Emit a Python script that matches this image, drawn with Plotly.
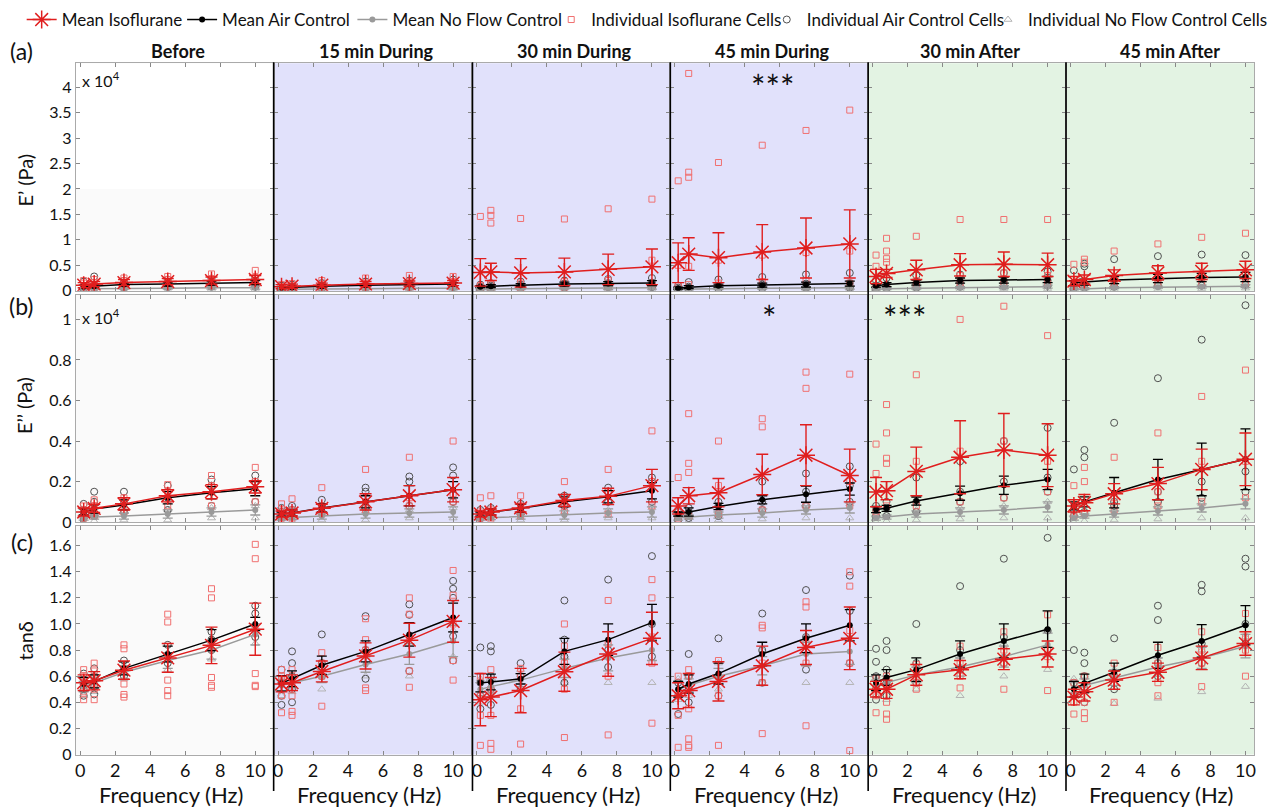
import plotly.graph_objects as go

W, H = 1273, 808

# ---------------- data ----------------
F = [0.2, 0.8, 2.5, 5, 7.5, 10]  # Hz
periods = ["Before", "15 min During", "30 min During", "45 min During", "30 min After", "45 min After"]
names = ["Mean Isoflurane", "Mean Air Control", "Mean No Flow Control",
         "Individual Isoflurane Cells", "Individual Air Control Cells", "Individual No Flow Control Cells"]

# (a) E' in units of 10^4 Pa
a_iso_mean = [[0.11, 0.13, 0.16, 0.18, 0.20, 0.22], [0.08, 0.09, 0.11, 0.13, 0.14, 0.15],
              [0.36, 0.37, 0.35, 0.37, 0.42, 0.47], [0.55, 0.72, 0.65, 0.76, 0.84, 0.92],
              [0.28, 0.34, 0.41, 0.51, 0.52, 0.51], [0.19, 0.22, 0.30, 0.35, 0.38, 0.41]]
a_iso_err = [[0.05, 0.05, 0.06, 0.06, 0.07, 0.08], [0.04, 0.04, 0.04, 0.05, 0.05, 0.05],
             [0.27, 0.17, 0.28, 0.27, 0.30, 0.35], [0.39, 0.32, 0.49, 0.54, 0.59, 0.67],
             [0.14, 0.08, 0.19, 0.22, 0.24, 0.23], [0.09, 0.09, 0.11, 0.14, 0.16, 0.17]]
a_air_mean = [[0.08, 0.09, 0.12, 0.13, 0.15, 0.16], [0.06, 0.07, 0.09, 0.11, 0.12, 0.13],
              [0.08, 0.09, 0.11, 0.13, 0.14, 0.15], [0.05, 0.07, 0.10, 0.11, 0.12, 0.14],
              [0.10, 0.12, 0.16, 0.20, 0.21, 0.22], [0.15, 0.17, 0.21, 0.24, 0.26, 0.27]]
a_air_err = [[0.03, 0.03, 0.03, 0.04, 0.04, 0.04], [0.02, 0.02, 0.03, 0.03, 0.03, 0.03],
             [0.02, 0.03, 0.03, 0.04, 0.04, 0.05], [0.02, 0.03, 0.03, 0.04, 0.05, 0.05],
             [0.03, 0.04, 0.05, 0.05, 0.06, 0.06], [0.05, 0.06, 0.07, 0.08, 0.08, 0.09]]
a_nf_mean = [[0.04, 0.04, 0.05, 0.05, 0.06, 0.06], [0.03, 0.03, 0.04, 0.04, 0.05, 0.05],
             [0.03, 0.03, 0.04, 0.05, 0.05, 0.06], [0.03, 0.03, 0.04, 0.05, 0.05, 0.06],
             [0.03, 0.04, 0.05, 0.06, 0.07, 0.08], [0.03, 0.04, 0.06, 0.07, 0.08, 0.09]]
a_nf_err = [[0.02, 0.02, 0.02, 0.02, 0.03, 0.03]] * 6
a_iso_cells = [
    [[0.05, 0.15, 0.2], [0.06, 0.16, 0.22], [0.08, 0.2, 0.25], [0.1, 0.22, 0.28], [0.1, 0.24, 0.33], [0.12, 0.26, 0.4]],
    [[0.03, 0.08, 0.12], [0.04, 0.1, 0.14], [0.05, 0.12, 0.2], [0.06, 0.15, 0.25], [0.07, 0.16, 0.3], [0.08, 0.18, 0.28]],
    [[0.05, 0.1, 1.46], [0.05, 0.12, 1.33, 1.48, 1.58], [0.06, 0.15, 1.42], [0.07, 0.18, 1.41], [0.08, 0.2, 1.61], [0.1, 0.6, 1.8]],
    [[0.1, 0.5, 2.16], [0.12, 0.48, 2.23, 2.33, 4.27], [0.15, 0.6, 2.52], [0.18, 0.7, 2.86], [0.2, 0.75, 3.15], [0.15, 0.78, 3.55]],
    [[0.08, 0.48, 0.7], [0.1, 0.56, 0.63, 0.78, 1.03], [0.12, 0.2, 1.07], [0.15, 0.3, 1.4], [0.15, 0.35, 1.4], [0.15, 0.3, 1.4]],
    [[0.08, 0.15, 0.52], [0.1, 0.56, 0.62], [0.12, 0.2, 0.78], [0.14, 0.25, 0.92], [0.15, 0.3, 1.05], [0.15, 0.35, 1.13]]]
a_air_cells = [
    [[0.04, 0.1, 0.18], [0.05, 0.12, 0.28], [0.06, 0.15, 0.2], [0.07, 0.15, 0.22], [0.08, 0.18, 0.24], [0.08, 0.2, 0.25]],
    [[0.03, 0.07, 0.1], [0.04, 0.08, 0.12], [0.05, 0.1, 0.15], [0.06, 0.12, 0.18], [0.07, 0.14, 0.2], [0.07, 0.15, 0.22]],
    [[0.03, 0.08, 0.12], [0.04, 0.1, 0.15], [0.05, 0.12, 0.18], [0.06, 0.14, 0.2], [0.07, 0.15, 0.23], [0.07, 0.16, 0.25]],
    [[0.02, 0.06, 0.1], [0.03, 0.08, 0.17], [0.04, 0.1, 0.22], [0.05, 0.12, 0.27], [0.06, 0.14, 0.32], [0.06, 0.15, 0.35]],
    [[0.04, 0.1, 0.2], [0.05, 0.12, 0.25], [0.06, 0.14, 0.3], [0.08, 0.18, 0.32], [0.09, 0.2, 0.35], [0.1, 0.2, 0.38]],
    [[0.05, 0.15, 0.4], [0.06, 0.48, 0.53], [0.08, 0.2, 0.62], [0.1, 0.22, 0.68], [0.1, 0.25, 0.71], [0.12, 0.25, 0.7]]]
a_nf_cells = [
    [[0.01, 0.05], [0.01, 0.06], [0.02, 0.07], [0.02, 0.08], [0.03, 0.09], [0.03, 0.1]],
    [[0.01, 0.04], [0.01, 0.05], [0.02, 0.06], [0.02, 0.07], [0.03, 0.08], [0.03, 0.08]],
    [[0.01, 0.05], [0.01, 0.05], [0.02, 0.06], [0.02, 0.08], [0.03, 0.08], [0.03, 0.09]],
    [[0.01, 0.05], [0.01, 0.05], [0.02, 0.06], [0.02, 0.08], [0.03, 0.08], [0.03, 0.09]],
    [[0.01, 0.06], [0.02, 0.07], [0.02, 0.08], [0.03, 0.1], [0.04, 0.11], [0.04, 0.12]],
    [[0.01, 0.06], [0.02, 0.07], [0.03, 0.09], [0.03, 0.11], [0.04, 0.12], [0.05, 0.13]]]

# (b) E'' in units of 10^4 Pa
b_iso_mean = [[0.05, 0.068, 0.09, 0.13, 0.15, 0.174], [0.04, 0.045, 0.068, 0.10, 0.13, 0.16],
              [0.04, 0.05, 0.07, 0.107, 0.127, 0.18], [0.08, 0.13, 0.145, 0.235, 0.33, 0.23],
              [0.148, 0.155, 0.25, 0.32, 0.356, 0.33], [0.08, 0.096, 0.14, 0.19, 0.26, 0.31]]
b_iso_err = [[0.02, 0.02, 0.03, 0.03, 0.035, 0.03], [0.015, 0.015, 0.02, 0.04, 0.05, 0.06],
             [0.015, 0.015, 0.02, 0.03, 0.04, 0.08], [0.04, 0.04, 0.07, 0.10, 0.15, 0.13],
             [0.072, 0.045, 0.12, 0.18, 0.18, 0.155], [0.03, 0.04, 0.05, 0.08, 0.10, 0.13]]
b_air_mean = [[0.05, 0.065, 0.085, 0.12, 0.145, 0.165], [0.04, 0.045, 0.07, 0.10, 0.13, 0.16],
              [0.04, 0.05, 0.068, 0.10, 0.125, 0.155], [0.04, 0.05, 0.077, 0.11, 0.138, 0.163],
              [0.062, 0.068, 0.104, 0.143, 0.182, 0.21], [0.08, 0.10, 0.145, 0.21, 0.26, 0.31]]
b_air_err = [[0.015, 0.02, 0.025, 0.03, 0.03, 0.035], [0.01, 0.015, 0.02, 0.03, 0.05, 0.04],
             [0.01, 0.015, 0.02, 0.025, 0.03, 0.04], [0.01, 0.02, 0.015, 0.02, 0.04, 0.03],
             [0.015, 0.015, 0.02, 0.035, 0.045, 0.05], [0.02, 0.025, 0.075, 0.1, 0.13, 0.15]]
b_nf_mean = [[0.02, 0.025, 0.03, 0.04, 0.05, 0.06], [0.02, 0.022, 0.03, 0.04, 0.045, 0.05],
             [0.02, 0.022, 0.03, 0.035, 0.045, 0.05], [0.02, 0.025, 0.035, 0.045, 0.06, 0.07],
             [0.02, 0.025, 0.04, 0.05, 0.06, 0.075], [0.02, 0.03, 0.04, 0.055, 0.07, 0.09]]
b_nf_err = [[0.01, 0.01, 0.015, 0.02, 0.02, 0.025]] * 6
b_iso_cells = [
    [[0.02, 0.06, 0.08], [0.03, 0.08, 0.11], [0.05, 0.1, 0.12], [0.08, 0.15, 0.185], [0.08, 0.18, 0.23], [0.1, 0.2, 0.27]],
    [[0.02, 0.05, 0.09], [0.02, 0.06, 0.115], [0.04, 0.08, 0.17], [0.06, 0.1, 0.26], [0.08, 0.12, 0.32], [0.1, 0.14, 0.4]],
    [[0.02, 0.05, 0.12], [0.02, 0.06, 0.13], [0.03, 0.08, 0.13], [0.05, 0.1, 0.2], [0.04, 0.15, 0.26], [0.08, 0.2, 0.45]],
    [[0.02, 0.06, 0.22], [0.03, 0.245, 0.29, 0.535], [0.04, 0.18, 0.4], [0.06, 0.47, 0.51], [0.08, 0.66, 0.74], [0.08, 0.2, 0.73]],
    [[0.05, 0.24, 0.385], [0.08, 0.29, 0.315, 0.44, 0.58], [0.08, 0.3, 0.727], [0.1, 0.35, 1.0], [0.12, 0.4, 1.065], [0.15, 0.3, 0.92]],
    [[0.03, 0.08, 0.18], [0.04, 0.2, 0.27], [0.06, 0.12, 0.32], [0.08, 0.15, 0.44], [0.1, 0.3, 0.62], [0.12, 0.3, 0.75]]]
b_air_cells = [
    [[0.02, 0.05, 0.09], [0.03, 0.1, 0.15], [0.05, 0.1, 0.15], [0.06, 0.12, 0.18], [0.08, 0.18, 0.21], [0.1, 0.2, 0.23]],
    [[0.03, 0.05, 0.07], [0.03, 0.06, 0.08], [0.05, 0.08, 0.11], [0.07, 0.15, 0.17], [0.08, 0.2, 0.225], [0.1, 0.23, 0.27]],
    [[0.02, 0.04, 0.06], [0.03, 0.05, 0.07], [0.04, 0.07, 0.09], [0.08, 0.12, 0.13], [0.1, 0.15, 0.17], [0.1, 0.2, 0.22]],
    [[0.01, 0.03, 0.05], [0.02, 0.05, 0.07], [0.03, 0.08, 0.1], [0.06, 0.1, 0.2], [0.08, 0.15, 0.24], [0.1, 0.18, 0.275]],
    [[0.03, 0.06, 0.08], [0.03, 0.07, 0.1], [0.05, 0.1, 0.22], [0.1, 0.15, 0.3], [0.12, 0.2, 0.4], [0.15, 0.22, 0.465]],
    [[0.03, 0.06, 0.26], [0.05, 0.32, 0.356], [0.08, 0.1, 0.49], [0.1, 0.15, 0.71], [0.12, 0.2, 0.9], [0.15, 0.25, 1.07]]]
b_nf_cells = [
    [[0.0, 0.03], [0.005, 0.04], [0.01, 0.05], [0.01, 0.06], [0.02, 0.07], [0.02, 0.08]],
    [[0.0, 0.03], [0.005, 0.035], [0.01, 0.045], [0.01, 0.055], [0.02, 0.06], [0.02, 0.07]],
    [[0.0, 0.03], [0.005, 0.035], [0.01, 0.045], [0.01, 0.05], [0.02, 0.06], [0.02, 0.07]],
    [[0.0, 0.03], [0.005, 0.04], [0.01, 0.05], [0.015, 0.06], [0.02, 0.08], [0.02, 0.09]],
    [[0.0, 0.03], [0.005, 0.04], [0.01, 0.06], [0.015, 0.07], [0.02, 0.08], [0.02, 0.1]],
    [[0.0, 0.03], [0.005, 0.045], [0.01, 0.06], [0.015, 0.075], [0.02, 0.09], [0.02, 0.12]]]

# (c) tan(delta)
c_iso_mean = [[0.55, 0.565, 0.646, 0.74, 0.836, 0.96], [0.54, 0.55, 0.636, 0.755, 0.876, 1.02],
              [0.42, 0.44, 0.49, 0.634, 0.77, 0.89], [0.45, 0.49, 0.56, 0.68, 0.82, 0.89],
              [0.5, 0.5, 0.61, 0.65, 0.73, 0.77], [0.44, 0.48, 0.57, 0.63, 0.74, 0.85]]
c_iso_err = [[0.06, 0.07, 0.07, 0.11, 0.14, 0.2], [0.06, 0.06, 0.08, 0.1, 0.13, 0.16],
             [0.2, 0.15, 0.17, 0.15, 0.17, 0.2], [0.1, 0.13, 0.15, 0.15, 0.13, 0.24],
             [0.06, 0.07, 0.08, 0.07, 0.08, 0.1], [0.06, 0.07, 0.07, 0.07, 0.09, 0.09]]
c_air_mean = [[0.54, 0.56, 0.66, 0.77, 0.876, 1.0], [0.545, 0.58, 0.684, 0.79, 0.92, 1.05],
              [0.55, 0.555, 0.58, 0.79, 0.88, 1.01], [0.5, 0.54, 0.62, 0.77, 0.89, 0.99],
              [0.55, 0.59, 0.65, 0.77, 0.87, 0.96], [0.5, 0.545, 0.63, 0.76, 0.87, 0.99]]
c_air_err = [[0.05, 0.05, 0.05, 0.06, 0.08, 0.05], [0.06, 0.06, 0.07, 0.08, 0.09, 0.11],
             [0.07, 0.06, 0.04, 0.1, 0.12, 0.14], [0.06, 0.07, 0.08, 0.09, 0.11, 0.12],
             [0.06, 0.06, 0.09, 0.1, 0.13, 0.14], [0.06, 0.07, 0.07, 0.1, 0.125, 0.15]]
c_nf_mean = [[0.52, 0.55, 0.63, 0.72, 0.8, 0.92], [0.53, 0.55, 0.6, 0.69, 0.77, 0.87],
             [0.5, 0.52, 0.57, 0.66, 0.74, 0.8], [0.5, 0.53, 0.6, 0.68, 0.77, 0.79],
             [0.53, 0.55, 0.61, 0.67, 0.75, 0.84], [0.51, 0.53, 0.59, 0.67, 0.74, 0.83]]
c_nf_err = [[0.04, 0.04, 0.05, 0.06, 0.07, 0.08], [0.04, 0.04, 0.05, 0.06, 0.08, 0.12],
            [0.05, 0.05, 0.05, 0.07, 0.1, 0.08], [0.05, 0.05, 0.06, 0.07, 0.09, 0.1],
            [0.04, 0.05, 0.06, 0.07, 0.08, 0.09], [0.04, 0.05, 0.06, 0.07, 0.08, 0.09]]
c_iso_cells = [
    [[0.42, 0.48, 0.55, 0.6, 0.65], [0.42, 0.5, 0.58, 0.64, 0.7], [0.44, 0.46, 0.54, 0.81, 0.84], [0.45, 0.49, 0.57, 1.015, 1.075], [0.515, 0.53, 0.59, 1.2, 1.27], [0.52, 0.53, 0.62, 1.5, 1.61]],
    [[0.32, 0.45, 0.55, 0.6, 0.65], [0.3, 0.33, 0.45, 0.55, 0.65], [0.37, 0.6, 0.7, 0.78], [0.49, 0.51, 0.8, 0.88, 1.04], [0.515, 0.64, 0.9, 1.075, 1.2], [0.57, 0.72, 1.0, 1.22, 1.41]],
    [[0.07, 0.3, 0.45, 0.6], [0.04, 0.085, 0.3, 0.5, 0.65], [0.08, 0.35, 0.6, 0.66], [0.13, 0.5, 0.7, 0.83, 1.0], [0.15, 0.6, 0.85, 1.18], [0.24, 0.7, 0.9, 1.2, 1.34]],
    [[0.055, 0.3, 0.45, 0.6], [0.055, 0.07, 0.12, 0.35, 0.6, 0.65], [0.07, 0.45, 0.6, 0.72], [0.16, 0.55, 0.7, 0.97, 0.99], [0.22, 0.7, 0.85, 1.13, 1.17], [0.03, 0.7, 0.95, 1.29, 1.4]],
    [[0.32, 0.45, 0.5, 0.58], [0.27, 0.31, 0.4, 0.5, 0.6], [0.69, 0.5, 0.55, 0.6], [0.51, 0.6, 0.7, 0.83], [0.5, 0.7, 0.8, 0.94], [0.49, 0.75, 0.8, 1.07]],
    [[0.31, 0.4, 0.45, 0.55], [0.275, 0.32, 0.4, 0.5, 0.6], [0.4, 0.55, 0.6, 0.7], [0.45, 0.55, 0.7, 0.82], [0.52, 0.7, 0.8, 0.94], [0.6, 0.8, 0.9, 1.08]]]
c_air_cells = [
    [[0.45, 0.5, 0.55, 0.62], [0.46, 0.52, 0.6, 0.66], [0.6, 0.65, 0.72], [0.7, 0.75, 0.84], [0.8, 0.88, 0.94], [0.9, 1.08, 1.14]],
    [[0.38, 0.45, 0.55, 0.65], [0.4, 0.5, 0.6, 0.7, 0.79], [0.6, 0.7, 0.92], [0.58, 0.8, 1.06], [0.64, 1.07, 1.15], [0.72, 0.906, 1.2, 1.27, 1.33]],
    [[0.35, 0.45, 0.55, 0.82], [0.38, 0.5, 0.6, 0.79, 0.83], [0.5, 0.6, 0.7], [0.55, 0.75, 0.88, 1.18], [0.67, 0.8, 1.34], [0.75, 1.0, 1.52]],
    [[0.31, 0.45, 0.55], [0.4, 0.5, 0.6, 0.77], [0.45, 0.6, 0.89], [0.55, 0.8, 1.08], [0.65, 0.9, 1.26], [0.7, 1.1, 1.37]],
    [[0.42, 0.5, 0.6, 0.71, 0.81], [0.45, 0.55, 0.65, 0.8, 0.87], [0.55, 0.7, 1.0], [0.65, 0.8, 1.29], [0.7, 0.9, 1.5], [0.8, 0.95, 1.66]],
    [[0.45, 0.55, 0.8], [0.4, 0.5, 0.6, 0.7, 0.78], [0.5, 0.6, 0.89], [0.6, 0.7, 1.03, 1.14], [0.7, 0.85, 1.25, 1.3], [0.85, 1.0, 1.44, 1.5]]]
c_nf_cells = [
    [[0.45, 0.55], [0.48, 0.58], [0.58, 0.68], [0.65, 0.78], [0.73, 0.86], [0.85, 0.98]],
    [[0.45, 0.58], [0.48, 0.6], [0.5, 0.65], [0.6, 0.75], [0.6, 0.85], [0.75, 0.95]],
    [[0.4, 0.58], [0.45, 0.6], [0.5, 0.65], [0.55, 0.75], [0.55, 0.85], [0.55, 0.9]],
    [[0.42, 0.58], [0.45, 0.6], [0.5, 0.7], [0.55, 0.8], [0.55, 0.85], [0.55, 0.9]],
    [[0.45, 0.6], [0.42, 0.58], [0.5, 0.68], [0.45, 0.75], [0.6, 0.85], [0.65, 0.95]],
    [[0.45, 0.58], [0.48, 0.6], [0.39, 0.65], [0.43, 0.75], [0.48, 0.8], [0.52, 0.9]]]

a_tickvals = [0, 0.5, 1, 1.5, 2, 2.5, 3, 3.5, 4]
a_ticktext = ["0", "0.5", "1", "1.5", "2", "2.5", "3", "3.5", "4"]
b_tickvals = [0, 0.2, 0.4, 0.6, 0.8, 1]
b_ticktext = ["0", "0.2", "0.4", "0.6", "0.8", "1"]
c_tickvals = [0, 0.2, 0.4, 0.6, 0.8, 1.0, 1.2, 1.4, 1.6]
c_ticktext = ["0", "0.2", "0.4", "0.6", "0.8", "1.0", "1.2", "1.4", "1.6"]
x_tickvals = [0, 2, 4, 6, 8, 10]

row_labels = ["(a)", "(b)", "(c)"]
row_titles = ["E\u2019 (Pa)", "E\u2019\u2019 (Pa)", "tan\u03b4"]
stars = [(0, 3, "***"), (1, 3, "*"), (1, 4, "***")]  # (row, column, text)

# ---------------- styling / layout geometry ----------------
FONT = "Lato, 'Open Sans', sans-serif"
RED, LRED, BLACK, GRAY, LGRAY = "#e01e1e", "#f07070", "#000000", "#9a9a9a", "#b4b4b4"
col_l = [76, 277, 479, 680, 881, 1082]
col_r = [277, 479, 680, 881, 1082, 1273]
row_t = [64, 298, 532]
row_b = [294, 528, 763]
y_max = [4.47, 1.122, 1.75]
HZ_PX = 201 / 11.3
bg = ["#fafafa", "#e1e1fb", "#e1e1fb", "#e1e1fb", "#e3f3e3", "#e3f3e3"]
legend_x = [21, 184, 357, 559, 778, 1003]   # left edge of each legend entry


def px(x):
    return x / W


def py(y):
    return 1 - y / H


rows = [
    (a_iso_mean, a_iso_err, a_air_mean, a_air_err, a_nf_mean, a_nf_err, a_iso_cells, a_air_cells, a_nf_cells, a_tickvals, a_ticktext),
    (b_iso_mean, b_iso_err, b_air_mean, b_air_err, b_nf_mean, b_nf_err, b_iso_cells, b_air_cells, b_nf_cells, b_tickvals, b_ticktext),
    (c_iso_mean, c_iso_err, c_air_mean, c_air_err, c_nf_mean, c_nf_err, c_iso_cells, c_air_cells, c_nf_cells, c_tickvals, c_ticktext),
]

fig = go.Figure()
layout = {}
shapes = []
annotations = []
LEG = ["legend", "legend2", "legend3", "legend4", "legend5", "legend6"]


def flatten(cells):
    xs, ys = [], []
    for f, vals in zip(F, cells):
        for v in vals:
            xs.append(f)
            ys.append(v)
    return xs, ys


for i, (im, ie, am, ae, nm, ne, ic, ac, nc, tv, tt) in enumerate(rows):
    for j in range(6):
        k = i * 6 + j + 1
        xname = "x" if k == 1 else f"x{k}"
        yname = "y" if k == 1 else f"y{k}"
        xkey = "xaxis" if k == 1 else f"xaxis{k}"
        ykey = "yaxis" if k == 1 else f"yaxis{k}"
        first = (k == 1)
        xr = [-0.25, -0.25 + (col_r[j] - col_l[j]) / HZ_PX]
        layout[xkey] = dict(domain=[px(col_l[j]), px(col_r[j])], range=xr, anchor=yname,
                            tickvals=x_tickvals, showticklabels=(i == 2), ticks="inside", ticklen=4,
                            tickcolor="#888", showline=True, linecolor="#aaaaaa", linewidth=1,
                            mirror="ticks", showgrid=False, zeroline=False,
                            tickfont=dict(size=18, color="#111", family=FONT))
        layout[ykey] = dict(domain=[py(row_b[i]), py(row_t[i])], range=[0, y_max[i]], anchor=xname,
                            tickvals=tv, ticktext=tt, showticklabels=(j == 0), ticks="inside", ticklen=4,
                            tickcolor="#888", showline=True, linecolor="#aaaaaa", linewidth=1,
                            mirror="ticks", showgrid=False, zeroline=False,
                            tickfont=dict(size=16, color="#111", family=FONT))
        # panel background
        shapes.append(dict(type="rect", xref=f"{xname} domain", yref=f"{yname} domain",
                           x0=0, x1=1, y0=0, y1=1, fillcolor=bg[j], line=dict(width=0), layer="below"))
        if i == 0 and j == 0:
            shapes.append(dict(type="rect", xref=f"{xname} domain", yref=yname,
                               x0=0, x1=1, y0=2, y1=y_max[0], fillcolor="#ffffff", line=dict(width=0), layer="below"))

        # individual cells
        xs, ys = flatten(nc[j])
        fig.add_trace(go.Scatter(x=xs, y=ys, mode="markers", xaxis=xname, yaxis=yname, name=names[5],
                                 legend=LEG[5], showlegend=first,
                                 marker=dict(symbol="triangle-up-open", size=7, color=LGRAY, line=dict(width=1))))
        xs, ys = flatten(ac[j])
        fig.add_trace(go.Scatter(x=xs, y=ys, mode="markers", xaxis=xname, yaxis=yname, name=names[4],
                                 legend=LEG[4], showlegend=first,
                                 marker=dict(symbol="circle-open", size=7, color="#505050", line=dict(width=1))))
        xs, ys = flatten(ic[j])
        fig.add_trace(go.Scatter(x=xs, y=ys, mode="markers", xaxis=xname, yaxis=yname, name=names[3],
                                 legend=LEG[3], showlegend=first,
                                 marker=dict(symbol="square-open", size=6, color=LRED, line=dict(width=1))))
        # means
        fig.add_trace(go.Scatter(x=F, y=nm[j], mode="lines+markers", xaxis=xname, yaxis=yname, name=names[2],
                                 legend=LEG[2], showlegend=first,
                                 line=dict(color=GRAY, width=1.5),
                                 marker=dict(symbol="circle", size=6, color=GRAY),
                                 error_y=dict(type="data", array=ne[j], symmetric=True, color=GRAY,
                                              thickness=1.3, width=5)))
        fig.add_trace(go.Scatter(x=F, y=am[j], mode="lines+markers", xaxis=xname, yaxis=yname, name=names[1],
                                 legend=LEG[1], showlegend=first,
                                 line=dict(color=BLACK, width=1.5),
                                 marker=dict(symbol="circle", size=6, color=BLACK),
                                 error_y=dict(type="data", array=ae[j], symmetric=True, color=BLACK,
                                              thickness=1.3, width=5)))
        fig.add_trace(go.Scatter(x=F, y=im[j], mode="lines+markers", xaxis=xname, yaxis=yname, name=names[0],
                                 legend=LEG[0], showlegend=first,
                                 line=dict(color=RED, width=1.5),
                                 marker=dict(symbol="asterisk-open", size=15, color=RED, line=dict(width=1.5, color=RED)),
                                 error_y=dict(type="data", array=ie[j], symmetric=True, color=RED,
                                              thickness=1.4, width=6)))

        if i == 2:
            annotations.append(dict(text="Frequency (Hz)", xref=xname, yref="paper", x=5.2, y=py(803),
                                    xanchor="center", yanchor="middle", showarrow=False,
                                    font=dict(size=22, color="#111", family=FONT)))

# column titles
for j, t in enumerate(periods):
    cx = (col_l[j] + col_r[j]) / 2 + 3
    if j == 5:
        cx = 1188
    annotations.append(dict(text=f"<b>{t}</b>", xref="paper", yref="paper", x=px(cx), y=py(52),
                            xanchor="center", yanchor="middle", showarrow=False,
                            font=dict(size=18, color="#111", family=FONT)))

# row labels and y titles
label_y = [52, 309, 548]
title_y = [182, 410, 648]
for i in range(3):
    annotations.append(dict(text=row_labels[i], xref="paper", yref="paper", x=px(21), y=py(label_y[i]),
                            xanchor="center", yanchor="middle", showarrow=False,
                            font=dict(size=23, color="#111", family=FONT)))
    annotations.append(dict(text=row_titles[i], xref="paper", yref="paper", x=px(24), y=py(title_y[i]),
                            xanchor="center", yanchor="middle", showarrow=False, textangle=-90,
                            font=dict(size=20, color="#111", family=FONT)))

# x 10^4 multipliers
for yy in (80, 320):
    annotations.append(dict(text="x 10<sup>4</sup>", xref="paper", yref="paper", x=px(80), y=py(yy),
                            xanchor="left", yanchor="middle", showarrow=False,
                            font=dict(size=16, color="#111", family=FONT)))

# significance stars
for (r, c, s) in stars:
    k = r * 6 + c + 1
    xname = "x" if k == 1 else f"x{k}"
    yname = "y" if k == 1 else f"y{k}"
    annotations.append(dict(text=s, xref=xname, yref=f"{yname} domain",
                            x=(5.6 if s == "***" and r == 0 else (5.4 if s == "*" else 1.8)), y=0.9,
                            xanchor="center", yanchor="middle", showarrow=False,
                            font=dict(size=34, color="#111", family=FONT)))

# black dividers between time points
for xx in col_l[1:]:
    shapes.append(dict(type="line", xref="paper", yref="paper", x0=px(xx), x1=px(xx),
                       y0=py(63), y1=py(800), line=dict(color="#000", width=1.6), layer="above"))

legends = {}
for n, key in enumerate(LEG):
    legends[key] = dict(orientation="h", x=px(legend_x[n]), y=py(2), xanchor="left", yanchor="top",
                        font=dict(size=17, family=FONT, color="#111"), bgcolor="rgba(0,0,0,0)",
                        itemwidth=30)

fig.update_layout(
    width=W, height=H, margin=dict(l=0, r=0, t=0, b=0),
    paper_bgcolor="#ffffff", plot_bgcolor="rgba(0,0,0,0)",
    font=dict(family=FONT, color="#111"),
    shapes=shapes, annotations=annotations,
    **legends,
    **layout,
)

fig.write_html("out.html", config={"displayModeBar": False},
               post_script="document.body.style.margin='0px';document.body.style.overflow='hidden';")
